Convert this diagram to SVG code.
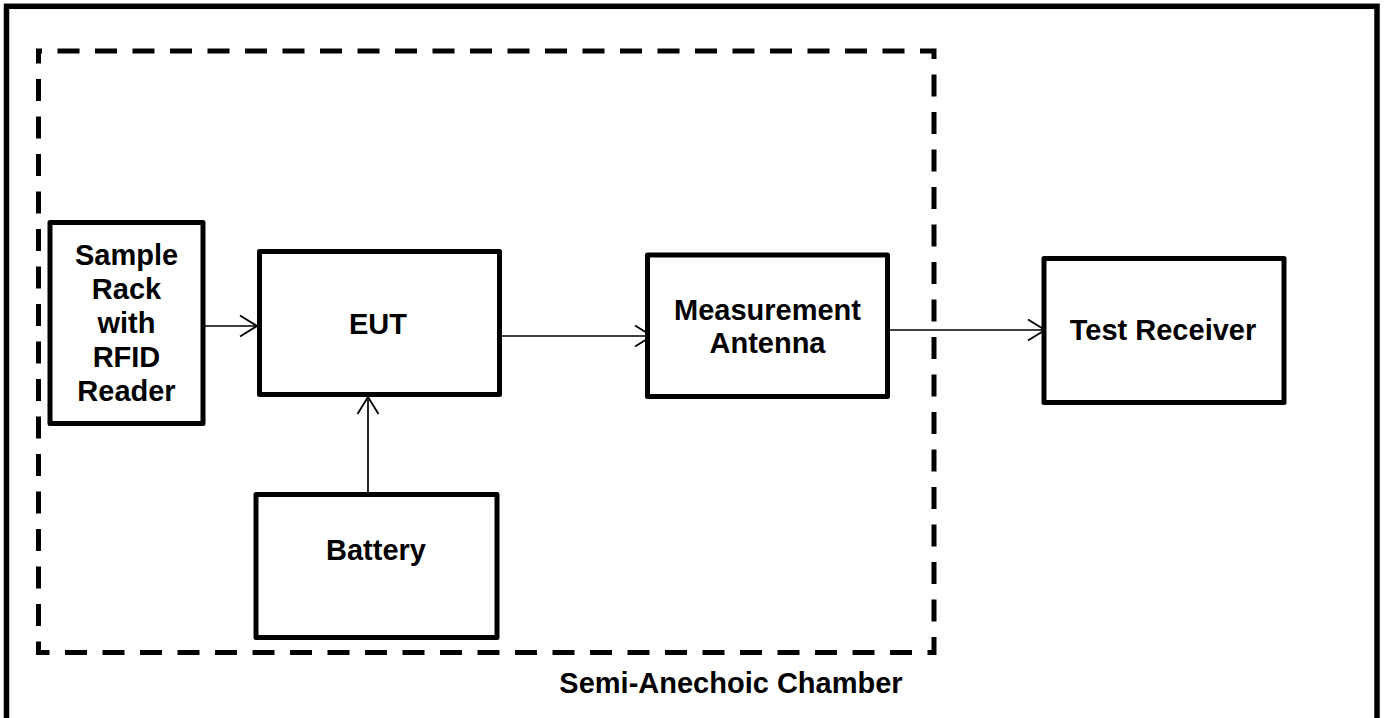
<svg xmlns="http://www.w3.org/2000/svg" width="1386" height="718" viewBox="0 0 1386 718">
<defs>
<style>
.box{fill:#fff;stroke:#000;stroke-width:5;stroke-linejoin:round}
.lbl{font-family:"Liberation Sans",Arial,sans-serif;font-weight:bold;font-size:29px;fill:#000;text-anchor:middle}
.conn{stroke:#000;stroke-width:1.7;fill:none}
</style>
<marker id="arr" viewBox="0 0 20 24" refX="18" refY="12" markerWidth="20" markerHeight="24" markerUnits="userSpaceOnUse" orient="auto">
<path d="M1,1.5 L18,12 L1,22.5" fill="none" stroke="#000" stroke-width="1.8"/>
</marker>
</defs>
<rect width="1386" height="718" fill="#fff"/>
<g id="frame">
<rect x="6.5" y="6.3" width="1370.5" height="730" fill="none" stroke="#000" stroke-width="5.5"/>
</g>
<g id="chamber">
<path d="M38.5,51 H934 V652.5 H38.5 Z" fill="none" stroke="#000" stroke-width="5" stroke-dasharray="22 15.5" stroke-dashoffset="18.5"/>
<text class="lbl" x="731" y="693">Semi-Anechoic Chamber</text>
</g>
<g id="connectors">
<line class="conn" x1="203" y1="326" x2="257" y2="326" marker-end="url(#arr)"/>
<line class="conn" x1="491" y1="336" x2="652" y2="336" marker-end="url(#arr)"/>
<line class="conn" x1="883" y1="330" x2="1045" y2="330" marker-end="url(#arr)"/>
<line class="conn" x1="368" y1="494" x2="368" y2="397" marker-end="url(#arr)"/>
</g>
<g id="sample-rack">
<rect class="box" x="50" y="222.5" width="153" height="201"/>
<text class="lbl" x="126.5" y="265">Sample</text>
<text class="lbl" x="126.5" y="299">Rack</text>
<text class="lbl" x="126.5" y="333">with</text>
<text class="lbl" x="126.5" y="367">RFID</text>
<text class="lbl" x="126.5" y="401">Reader</text>
</g>
<g id="eut">
<rect class="box" x="259.5" y="251.5" width="240" height="143"/>
<text class="lbl" x="378" y="334">EUT</text>
</g>
<g id="battery">
<rect class="box" x="256" y="494.5" width="241" height="143"/>
<text class="lbl" x="376" y="560">Battery</text>
</g>
<g id="measurement-antenna">
<rect class="box" x="647.5" y="255" width="240" height="141.5"/>
<text class="lbl" x="767.5" y="320">Measurement</text>
<text class="lbl" x="767.5" y="353">Antenna</text>
</g>
<g id="test-receiver">
<rect class="box" x="1044" y="258.5" width="240" height="144"/>
<text class="lbl" x="1163" y="340">Test Receiver</text>
</g>
</svg>
